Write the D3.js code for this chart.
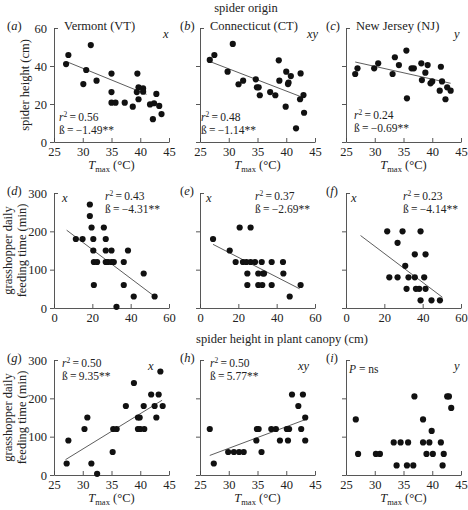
<!DOCTYPE html>
<html><head><meta charset="utf-8">
<script src="https://cdn.jsdelivr.net/npm/d3@7"></script>
<style>
body{margin:0;background:#fff}
svg{display:block}
text{font-family:"Liberation Serif","DejaVu Serif",serif;fill:#222}
</style>
</head><body>
<svg id="c" width="468" height="510"></svg>
<script>
// ---- data ----
const tmaxTicks = [25,30,35,40,45];
const heightTicks = [0,20,40,60];
const heightXTicks = [0,20,40,60];
const feedTicks = [0,100,200,300];
const stateNames = ["Vermont (VT)","Connecticut (CT)","New Jersey (NJ)"];
const panelLetters = ["a","b","c","d","e","f","g","h","i"];
const cornerTags = ["x","xy","y","x","x","x","x","xy","y"];
const r2Vals = ["0.56","0.48","0.24","0.43","0.37","0.23","0.50","0.50",null];
const betaVals = ["\u22121.49**","\u22121.14**","\u22120.69**","\u22124.31**","\u22122.69**","\u22124.14**","9.35**","5.77**",null];

const ptsA = [[27.1,41],[27.5,45.8],[31.4,51],[30.6,37.9],[30.1,30.5],[32.4,32.3],[35,36],[35,26.3],[35,20.7],[35.7,20.7],[37.3,20.7],[38.7,18.6],[39.5,36],[39.7,28.8],[39.4,26.3],[39.7,22.5],[40.5,28.2],[40.5,26.5],[41.7,19.8],[42.2,12],[42.4,20.4],[42.8,25.3],[43.3,19],[43.7,14.7]];
const ptsB = [[26.7,43.2],[27.5,45.8],[30.7,51.6],[29.8,37],[31.7,30.4],[32.5,32.3],[34.7,33],[34.9,28.8],[35.2,28.8],[35.4,24.6],[37.2,26.3],[38.1,24.6],[38.7,43],[38.8,32.3],[39.9,18.6],[40,37],[40.3,30.5],[40.4,31.2],[40.8,34.7],[42.5,36.1],[41.7,7.2],[42.4,22.5],[43,24.7],[43.1,15.4]];
const ptsC = [[26.6,35.8],[27,38.8],[29.9,38.8],[30.6,41.4],[33.1,35.8],[33.5,44.6],[34.2,40.5],[35.5,48.1],[35.6,23],[36.4,38.8],[36.8,38.8],[38.1,41.4],[38.2,32.6],[38.8,36.5],[39.2,40.5],[39.7,30.9],[40,31.9],[41.5,39.6],[41.7,31.9],[41.3,27],[42.3,22.5],[42.6,28.8],[43.2,27]];
const ptsD = [[11.4,180],[14.9,180],[18.7,270],[18.7,240],[19.6,210],[20.5,180],[20.5,150],[20.8,120],[20.8,60],[22.5,120],[26,210],[27,180],[27,150],[27,120],[28.2,120],[30,150],[30,120],[31.2,120],[32.6,3],[36.4,120],[36.4,60],[38.6,150],[41.6,30],[46.8,90],[52.5,30]];
const ptsE = [[6.8,180],[15.5,150],[18.6,120],[20.7,210],[26.4,210],[22.4,120],[24.2,120],[26.4,120],[28.7,120],[32.2,120],[37.4,120],[43.3,120],[24.7,90],[30.4,90],[32.9,90],[33.4,90],[43.5,90],[24.7,60],[30.4,60],[32.5,60],[37.4,60],[52.5,60],[46.8,30]];
const ptsF = [[21.5,200],[29.5,200],[38.9,200],[26.9,170],[35.9,140],[41.5,140],[30.9,110],[22.6,80],[26.9,80],[32.6,80],[35.9,80],[40.8,80],[31.6,50],[36.5,50],[38.2,50],[41.5,50],[38.9,20],[44.6,20],[49,20]];
const ptsG = [[27.2,30],[27.5,90],[30.3,120],[30.8,150],[31.5,30],[32.5,3],[35.2,60],[35.3,120],[35.9,120],[37.5,180],[38.9,240],[39.6,150],[39.9,150],[39.6,120],[40,120],[40.6,180],[40.7,120],[41.9,210],[42.5,180],[42.8,150],[43.2,210],[43.5,270],[43.9,180]];
const ptsH = [[26.7,120],[27.4,30],[29.9,60],[30.9,60],[31.8,60],[32.6,60],[34.8,90],[34.9,120],[35.2,120],[35.7,60],[37.4,120],[38.2,120],[38.9,90],[40.1,120],[40.5,120],[40.3,90],[41,210],[42.1,180],[42.6,120],[42.9,210],[43.3,150],[43.3,90]];
const ptsI = [[26.7,145],[27.1,55],[30.2,55],[30.9,55],[33.3,85],[33.8,25],[34.5,85],[35.8,85],[35.6,25],[36.7,25],[36.9,205],[38.4,145],[38.4,85],[39,55],[39.5,85],[39.9,115],[40.1,55],[41.5,85],[41.8,25],[42,55],[42.6,205],[42.9,205],[43.3,175]];

const lineA = [[27.5,41.9],[41.1,25.1]];
const lineB = [[26.5,42.6],[42.5,23.9]];
const lineC = [[26.6,42.1],[43.2,30.9]];
const lineD = [[6.6,203],[52,32]];
const lineE = [[6.8,166],[52,50]];
const lineF = [[7.6,189],[50.3,28]];
const lineG = [[27,40],[43.8,195]];
const lineH = [[26.7,51],[43.4,145]];

const allPts = [ptsA,ptsB,ptsC,ptsD,ptsE,ptsF,ptsG,ptsH,ptsI];
const allLines = [lineA,lineB,lineC,lineD,lineE,lineF,lineG,lineH,null];

// ---- layout ----
const colsX = [[54,169],[200,315],[346,461]];
const rowsY = [[28,142],[193,308],[360,475]];
const statPos = [[59,121],[201,121],[354,119],[105,200],[255,200],[403,200],[62,367],[210,367],[349,373]];
const cornerPos = [[163,38],[307,38],[454,38],[62,202],[206,202],[351,202],[148,370],[298,370],[454,370]];
const FS = 12.5, SFS = 11.5;

const svg = d3.select('#c');

svg.append('text').attr('x',246).attr('y',12).attr('text-anchor','middle').attr('font-size',FS).text('spider origin');
svg.append('text').attr('x',282).attr('y',343).attr('text-anchor','middle').attr('font-size',FS).text('spider height in plant canopy (cm)');

// y labels
svg.append('text').attr('transform','translate(29,85) rotate(-90)').attr('text-anchor','middle').attr('font-size',FS).text('spider height (cm)');
[250.5,417.5].forEach(cy=>{
  const t=svg.append('text').attr('transform',`translate(12,${cy}) rotate(-90)`).attr('text-anchor','middle').attr('font-size',FS);
  t.append('tspan').attr('x',0).attr('y',0).text('grasshopper daily');
  t.append('tspan').attr('x',0).attr('y',13.5).text('feeding time (min)');
});

for(let i=0;i<9;i++){
  const row=Math.floor(i/3), col=i%3;
  const [x0,x1]=colsX[col], [y0,y1]=rowsY[row];
  const x=d3.scaleLinear().domain(row===1?[0,60]:[25,45]).range([x0,x1]);
  const y=d3.scaleLinear().domain(row===0?[0,60]:[0,300]).range([y1,y0]);
  const g=svg.append('g');

  // y axis
  const yt=row===0?heightTicks:feedTicks;
  const gy=g.append('g').attr('transform',`translate(${x0},0)`)
    .call(d3.axisLeft(y).tickValues(yt).tickSize(4).tickSizeOuter(0).tickPadding(3)
      .tickFormat(col===0?d3.format('d'):()=>''));
  gy.attr('font-family',null).attr('font-size',FS);
  gy.selectAll('.tick').filter(d=>d===yt[yt.length-1]).select('line').attr('x2',4);
  gy.selectAll('path,line').attr('stroke','#444').attr('stroke-width',0.9);

  // x axis
  const xt=row===1?heightXTicks:tmaxTicks;
  const gx=g.append('g').attr('transform',`translate(0,${y1})`)
    .call(d3.axisBottom(x).tickValues(xt).tickSizeInner(-4).tickSizeOuter(0).tickPadding(5));
  gx.attr('font-family',null).attr('font-size',FS);
  gx.selectAll('path,line').attr('stroke','#444').attr('stroke-width',0.9);

  // regression line
  const ln=allLines[i];
  if(ln){
    g.append('path').attr('d',d3.line().x(d=>x(d[0])).y(d=>y(d[1]))(ln))
      .attr('fill','none').attr('stroke','#333').attr('stroke-width',0.8);
  }
  // points
  g.selectAll('circle.p').data(allPts[i]).join('circle').attr('class','p')
    .attr('cx',d=>x(d[0])).attr('cy',d=>y(d[1])).attr('r',3.1).attr('fill','#111');

  // panel label
  const pl=g.append('text').attr('x',col>0?x0-20:x0-47).attr('y',y0+2).attr('font-size',FS);
  pl.append('tspan').text('(');
  pl.append('tspan').attr('font-style','italic').text(panelLetters[i]);
  pl.append('tspan').text(')');

  if(row===0){
    g.append('text').attr('x',x0+10).attr('y',y0+2).attr('font-size',FS).text(stateNames[col]);
  }
  // corner tag
  g.append('text').attr('x',cornerPos[i][0]).attr('y',cornerPos[i][1]).attr('font-size',FS).attr('font-style','italic').text(cornerTags[i]);

  // stats
  const [sx,sy]=statPos[i];
  if(r2Vals[i]){
    const t=g.append('text').attr('x',sx).attr('y',sy).attr('font-size',SFS);
    t.append('tspan').attr('font-style','italic').text('r');
    t.append('tspan').attr('font-size',7.5).attr('dy',-4.5).text('2');
    t.append('tspan').attr('dy',4.5).text('\u2009=\u2009'+r2Vals[i]);
    g.append('text').attr('x',sx).attr('y',sy+13).attr('font-size',SFS).text('\u00df\u2009=\u2009'+betaVals[i]);
  } else {
    const t=g.append('text').attr('x',sx).attr('y',sy).attr('font-size',SFS);
    t.append('tspan').attr('font-style','italic').text('P');
    t.append('tspan').text(' = ns');
  }

  // x label
  if(row!==1){
    const cx=(x0+x1)/2;
    const xl=g.append('text').attr('x',cx).attr('y',row===0?169:502).attr('text-anchor','middle').attr('font-size',FS);
    xl.append('tspan').attr('font-style','italic').text('T');
    xl.append('tspan').attr('font-size',8.5).attr('dy',3).text('max');
    xl.append('tspan').attr('dy',-3).text(' (\u00b0C)');
  }
}
</script>
</body></html>
